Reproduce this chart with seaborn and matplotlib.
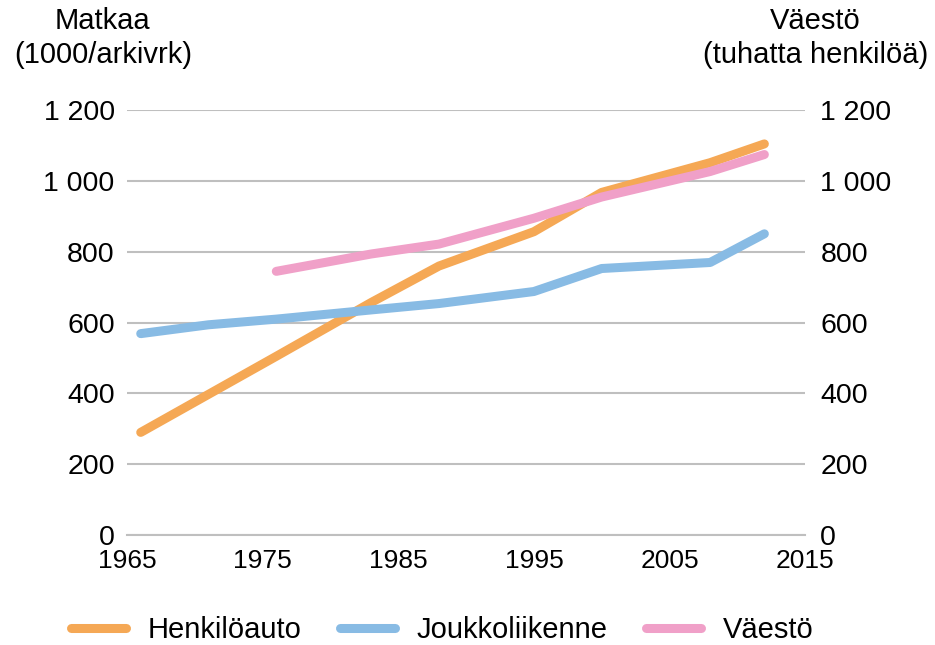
import matplotlib
matplotlib.use("Agg")
import matplotlib.pyplot as plt
import seaborn as sns
import pandas as pd
from matplotlib.ticker import FuncFormatter

# Henkilöauto / Joukkoliikenne trips (1000 per weekday), population (thousands)
auto_years = [1966, 1976, 1983, 1988, 1995, 2000, 2008, 2012]
auto_trips = [290, 505, 657, 760, 857, 968, 1052, 1105]

transit_years = [1966, 1971, 1976, 1983, 1988, 1995, 2000, 2008, 2012]
transit_trips = [569, 594, 610, 636, 654, 688, 753, 770, 851]

pop_years = [1976, 1983, 1988, 1995, 2000, 2008, 2012]
population = [745, 794, 822, 895, 955, 1027, 1075]

x_ticks = [1965, 1975, 1985, 1995, 2005, 2015]
y_ticks = [0, 200, 400, 600, 800, 1000, 1200]

ORANGE = "#F5A855"
BLUE = "#88BBE4"
PINK = "#F0A0C8"
GRID = "#BFBFBF"

sns.set_style("white")
plt.rcParams["font.family"] = ["Liberation Sans", "DejaVu Sans"]
plt.rcParams["text.color"] = "black"

auto_df = pd.DataFrame({"year": auto_years, "value": auto_trips})
transit_df = pd.DataFrame({"year": transit_years, "value": transit_trips})
pop_df = pd.DataFrame({"year": pop_years, "value": population})

fig, ax = plt.subplots(figsize=(9.35, 6.45), dpi=100)
fig.subplots_adjust(left=0.136, right=0.861, top=0.829, bottom=0.1705)
ax2 = ax.twinx()

lw = 6.5
sns.lineplot(data=auto_df, x="year", y="value", ax=ax, color=ORANGE,
             linewidth=lw, solid_capstyle="round", label="Henkilöauto", legend=False)
sns.lineplot(data=transit_df, x="year", y="value", ax=ax, color=BLUE,
             linewidth=lw, solid_capstyle="round", label="Joukkoliikenne", legend=False)
sns.lineplot(data=pop_df, x="year", y="value", ax=ax2, color=PINK,
             linewidth=lw, solid_capstyle="round", label="Väestö", legend=False)

fmt = FuncFormatter(lambda v, _: f"{int(v):,}".replace(",", " "))
for a in (ax, ax2):
    a.set_ylim(0, 1200)
    a.set_yticks(y_ticks)
    a.yaxis.set_major_formatter(fmt)
    a.set_xlabel("")
    a.set_ylabel("")
    for s in a.spines.values():
        s.set_visible(False)
    a.tick_params(axis="y", length=0, labelsize=20.5, labelcolor="black")

ax.tick_params(axis="y", pad=9)
ax2.tick_params(axis="y", pad=11)

ax.set_xlim(1965, 2015)
ax.set_xticks(x_ticks)
ax.tick_params(axis="x", length=7, width=1.3, color=GRID, labelsize=19,
               labelcolor="black", pad=3)
ax.spines["bottom"].set_visible(True)
ax.spines["bottom"].set_color(GRID)
ax.spines["bottom"].set_linewidth(1.5)

ax.yaxis.grid(True, color=GRID, linewidth=1.5)
ax.set_axisbelow(True)
ax.grid(axis="x", visible=False)
ax2.grid(False)

fig.text(0.110, 0.941, "Matkaa\n(1000/arkivrk)", ha="center", va="center",
         fontsize=21, linespacing=1.25)
fig.text(0.872, 0.941, "Väestö\n(tuhatta henkilöä)", ha="center", va="center",
         fontsize=21, linespacing=1.25)

handles = ax.get_lines()[:2] + ax2.get_lines()[:1]
labels = ["Henkilöauto", "Joukkoliikenne", "Väestö"]
fig.legend(handles, labels, loc="center", bbox_to_anchor=(0.473, 0.023),
           ncol=3, frameon=False, fontsize=21, handlelength=1.9,
           columnspacing=1.3, handletextpad=0.75)

fig.savefig("out.png", dpi=100)
